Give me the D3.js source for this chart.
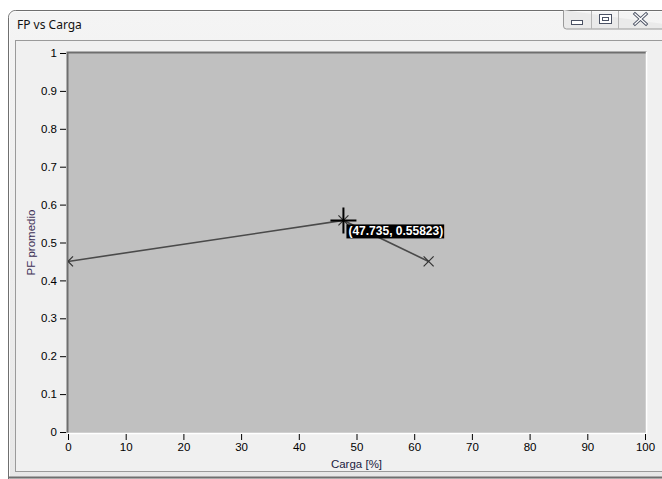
<!DOCTYPE html>
<html><head><meta charset="utf-8">
<script src="https://cdn.jsdelivr.net/npm/d3@7"></script>
<style>html,body{margin:0;padding:0;background:#fff;overflow:hidden}</style>
</head><body>
<svg id="c" width="662" height="479"></svg>
<script>
const windowTitle = "FP vs Carga";
const xLabel = "Carga [%]";
const yLabel = "PF promedio";
const carga = [0, 47.735, 62.5];
const pf = [0.45, 0.55823, 0.45];
const xTicks = [0,10,20,30,40,50,60,70,80,90,100];
const yTicks = [0,0.1,0.2,0.3,0.4,0.5,0.6,0.7,0.8,0.9,1];
const cursorIndex = 1;
const tipText = "(47.735, 0.55823)";

const svg = d3.select("#c");
const font = "'Liberation Sans', Arial, sans-serif";

// window chrome
const defs = svg.append("defs");
const g1 = defs.append("linearGradient").attr("id","tb").attr("x1",0).attr("y1",0).attr("x2",0).attr("y2",1);
g1.append("stop").attr("offset","0%").attr("stop-color","#f4f4f4");
g1.append("stop").attr("offset","100%").attr("stop-color","#e6e6e6");
svg.append("rect").attr("x",8.5).attr("y",10.5).attr("width",700).attr("height",520).attr("rx",7)
  .attr("fill","url(#tb)").attr("stroke","#6f6f6f");
svg.append("rect").attr("x",9.5).attr("y",11.5).attr("width",700).attr("height",520).attr("rx",6)
  .attr("fill","none").attr("stroke","#fbfbfb");
svg.append("text").attr("x",17).attr("y",29).attr("font-family","'Noto Sans', 'Open Sans', sans-serif")
  .attr("font-size",12).attr("fill","#111").text(windowTitle);
// buttons
svg.append("path").attr("d","M563.5,10 V26 q0,3 3,3 H700").attr("fill","#eaeaea").attr("stroke","#9a9a9a");
svg.append("line").attr("x1",591.5).attr("x2",591.5).attr("y1",11).attr("y2",29).attr("stroke","#b5b5b5");
svg.append("line").attr("x1",618.5).attr("x2",618.5).attr("y1",11).attr("y2",29).attr("stroke","#b5b5b5");
svg.append("rect").attr("x",571.5).attr("y",20.5).attr("width",11).attr("height",4).attr("fill","#fff").attr("stroke","#4b5264");
svg.append("rect").attr("x",599.5).attr("y",14.5).attr("width",12).attr("height",9).attr("fill","#fff").attr("stroke","#4b5264");
svg.append("rect").attr("x",602.5).attr("y",17.5).attr("width",6).attr("height",3).attr("fill","none").attr("stroke","#4b5264");
svg.append("path").attr("d","M635,14 L646,24 M646,14 L635,24").attr("stroke","#4b5264").attr("stroke-width",3.2).attr("stroke-linecap","square");
svg.append("path").attr("d","M635,14 L646,24 M646,14 L635,24").attr("stroke","#fff").attr("stroke-width",1.3).attr("stroke-linecap","square");
// content panel
svg.append("rect").attr("x",15.5).attr("y",40.5).attr("width",700).attr("height",431).attr("fill","#f0f0f0").attr("stroke","#9a9a9a");
svg.append("line").attr("x1",8).attr("x2",662).attr("y1",477.5).attr("y2",477.5).attr("stroke","#6f6f6f").attr("stroke-width",2);

// chart
const m = {l:68, r:645, t:53, b:432};
const x = d3.scaleLinear().domain([0,100]).range([m.l, m.r]);
const y = d3.scaleLinear().domain([0,1]).range([m.b, m.t]);

svg.append("rect").attr("x",m.l-1).attr("y",m.t-1).attr("width",m.r-m.l+2).attr("height",m.b-m.t+2).attr("fill","#c0c0c0");
// 3D border
svg.append("path").attr("d",`M${m.l-0.5},${m.b+1} V${m.t-0.5} H${m.r+1.5}`).attr("fill","none").attr("stroke","#6e6e6e").attr("stroke-width",2);
svg.append("path").attr("d",`M${m.r+1.5},${m.t-1} V${m.b+1.5} H${m.l-1}`).attr("fill","none").attr("stroke","#ffffff").attr("stroke-width",1.5);

const xAxis = svg.append("g").attr("transform",`translate(0,${m.b+2})`)
  .call(d3.axisBottom(x).tickValues(xTicks).tickSize(6).tickPadding(3).tickFormat(d3.format("d")));
const yAxis = svg.append("g").attr("transform",`translate(${m.l-2},0)`)
  .call(d3.axisLeft(y).tickValues(yTicks).tickSize(6).tickPadding(3).tickFormat(d=>d3.format("")(d)));
[xAxis,yAxis].forEach(a=>{
  a.select(".domain").remove();
  a.selectAll("line").attr("stroke","#000");
  a.selectAll("text").attr("font-family",font).attr("font-size",11.5).attr("fill","#000");
});

svg.append("text").attr("x",(m.l+m.r)/2).attr("y",468).attr("text-anchor","middle")
  .attr("font-family",font).attr("font-size",11.5).attr("fill","#1a2040").text(xLabel);
svg.append("text").attr("transform",`translate(35,${(m.t+m.b)/2}) rotate(-90)`).attr("text-anchor","middle")
  .attr("font-family",font).attr("font-size",11.5).attr("fill","#3c2f55").text(yLabel);

// clip
defs.append("clipPath").attr("id","pc").append("rect").attr("x",m.l).attr("y",m.t).attr("width",m.r-m.l).attr("height",m.b-m.t);
const plot = svg.append("g").attr("clip-path","url(#pc)");
const pts = carga.map((c,i)=>[c,pf[i]]);
plot.append("path").datum(pts).attr("d",d3.line().x(d=>x(d[0])).y(d=>y(d[1])))
  .attr("fill","none").attr("stroke","#4a4a4a").attr("stroke-width",1.6);
const s = 5;
plot.selectAll("path.mk").data(pts).join("path").attr("class","mk")
  .attr("d",d=>{const px=x(d[0]), py=y(d[1]);return `M${px-s},${py-s}L${px+s},${py+s}M${px-s},${py+s}L${px+s},${py-s}`;})
  .attr("stroke","#333").attr("stroke-width",1.2).attr("fill","none");

// cursor crosshair + tooltip
const cx = x(carga[cursorIndex]), cy = y(pf[cursorIndex]);
svg.append("path").attr("d",`M${cx-13},${cy}H${cx+13}M${cx},${cy-13}V${cy+13}`)
  .attr("stroke","#000").attr("stroke-width",2).attr("fill","none");
const tip = svg.append("g").attr("transform",`translate(${cx+3},${cy+4})`);
const tt = tip.append("text").attr("x",2).attr("y",11).attr("font-family",font).attr("font-weight","bold")
  .attr("font-size",12).attr("fill","#fff").text(tipText);
const bb = tt.node().getBBox();
tip.insert("rect","text").attr("x",0).attr("y",0).attr("width",bb.width+3).attr("height",14).attr("fill","#000");
</script>
</body></html>
